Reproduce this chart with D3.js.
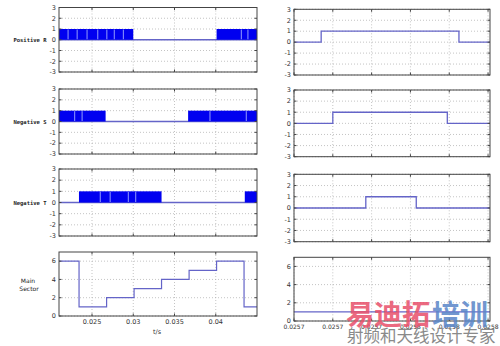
<!DOCTYPE html>
<html><head><meta charset="utf-8">
<script src="https://cdn.jsdelivr.net/npm/d3@7/dist/d3.min.js"></script>
<style>body{margin:0;background:#fff}svg{display:block}</style>
</head><body>
<svg id="c" width="500" height="346"></svg>
<script>
// ---------------- data ----------------
const leftDomain = [0.021, 0.045];
const leftTickValues = [0.025, 0.03, 0.035, 0.04];
const leftTickLabels = ["0.025", "0.03", "0.035", "0.04"];
const pulseYTicks = [-3, -2, -1, 0, 1, 2, 3];
const sectorYTicks = [0, 2, 4, 6];

const rightDomain = [0.02568, 0.025781];
const rightTickValues = [0.02568, 0.0257, 0.02572, 0.02574, 0.02576, 0.02578];
const rightTickLabels = ["0.0257", "0.0257", "0.0257", "0.0258", "0.0258", "0.0258"];

const pulseNames = ["Positive R", "Negative S", "Negative T"];
// PWM switching bands (signal toggles 0/1 rapidly) and visible gaps
const rBands = [[0.021, 0.0300], [0.0401, 0.045]];
const rGaps = [0.0221, 0.0232, 0.0244, 0.0257, 0.0268, 0.0277, 0.0288, 0.0431, 0.0439];
const sBands = [[0.021, 0.02665], [0.03665, 0.045]];
const sGaps = [0.0229, 0.0238, 0.0393, 0.0437];
const tBands = [[0.02342, 0.03343], [0.04352, 0.045]];
const tGaps = [0.0260, 0.0272, 0.0294, 0.0303];

// main sector step signal
const sectorTimes = [0.021, 0.02343, 0.02677, 0.0301, 0.03343, 0.03677, 0.0401, 0.04343, 0.045];
const sectorValues = [6, 1, 2, 3, 4, 5, 6, 1];

// zoomed single PWM period: on/off edges
const rZoomTimes = [0.02568, 0.025694, 0.025765, 0.025781];
const rZoomValues = [0, 1, 0];
const sZoomTimes = [0.02568, 0.0257, 0.025759, 0.025781];
const sZoomValues = [0, 1, 0];
const tZoomTimes = [0.02568, 0.025717, 0.025743, 0.025781];
const tZoomValues = [0, 1, 0];
const sectorZoomTimes = [0.02568, 0.025781];
const sectorZoomValues = [1];

// ---------------- drawing ----------------
const svg = d3.select("#c");
const FONT = "DejaVu Sans";
const lineCol = "#6464c8";
const fillCol = "#0000f0";

function panel(o) {
  const g = svg.append("g");
  const x = d3.scaleLinear().domain(o.xDomain).range([o.x0, o.x1]);
  const y = d3.scaleLinear().domain(o.yDomain).range([o.y1, o.y0]);
  g.selectAll(".gx").data(o.xTicks).join("line")
    .attr("x1", d => x(d)).attr("x2", d => x(d)).attr("y1", o.y0).attr("y2", o.y1)
    .attr("stroke", "#aaa").attr("stroke-width", 0.7).attr("stroke-dasharray", "1,2");
  g.selectAll(".gy").data(o.yTicks).join("line")
    .attr("x1", o.x0).attr("x2", o.x1).attr("y1", d => y(d)).attr("y2", d => y(d))
    .attr("stroke", "#aaa").attr("stroke-width", 0.7).attr("stroke-dasharray", "1,2");
  o.draw(g, x, y);
  g.append("rect").attr("x", o.x0).attr("y", o.y0).attr("width", o.x1 - o.x0).attr("height", o.y1 - o.y0)
    .attr("fill", "none").attr("stroke", "#444").attr("stroke-width", 1);
  const tl = 2.5;
  o.xTicks.forEach(d => {
    g.append("line").attr("x1", x(d)).attr("x2", x(d)).attr("y1", o.y1).attr("y2", o.y1 - tl).attr("stroke", "#444");
    g.append("line").attr("x1", x(d)).attr("x2", x(d)).attr("y1", o.y0).attr("y2", o.y0 + tl).attr("stroke", "#444");
  });
  o.yTicks.forEach(d => {
    g.append("line").attr("x1", o.x0).attr("x2", o.x0 + tl).attr("y1", y(d)).attr("y2", y(d)).attr("stroke", "#444");
    g.append("line").attr("x1", o.x1).attr("x2", o.x1 - tl).attr("y1", y(d)).attr("y2", y(d)).attr("stroke", "#444");
  });
  g.selectAll(".yl").data(o.yTicks).join("text")
    .attr("x", o.x0 - 3).attr("y", d => y(d)).attr("dy", "0.35em")
    .attr("text-anchor", "end").attr("font-family", FONT).attr("font-size", 6.5).attr("fill", "#333")
    .text(d => d);
  if (o.xLabels) {
    g.selectAll(".xl").data(o.xTicks).join("text")
      .attr("x", d => x(d)).attr("y", o.y1 + 8).attr("text-anchor", "middle")
      .attr("font-family", FONT).attr("font-size", o.xFont || 6.5).attr("fill", "#333")
      .text((d, i) => o.xLabels[i]);
  }
  return {x, y};
}

function stepPath(x, y, times, vals) {
  let p = "";
  vals.forEach((v, i) => {
    p += (i === 0 ? "M" : "L") + x(times[i]) + "," + y(v) + "L" + x(times[i + 1]) + "," + y(v);
  });
  return p;
}

function pwm(bands, gaps) {
  return (g, x, y) => {
    g.append("line").attr("x1", x(leftDomain[0])).attr("x2", x(leftDomain[1]))
      .attr("y1", y(0)).attr("y2", y(0)).attr("stroke", lineCol).attr("stroke-width", 1.3);
    g.selectAll(".band").data(bands).join("rect")
      .attr("x", d => x(d[0])).attr("width", d => x(d[1]) - x(d[0]))
      .attr("y", y(1)).attr("height", y(0) - y(1)).attr("fill", fillCol);
    g.selectAll(".gap").data(gaps).join("line")
      .attr("x1", d => x(d)).attr("x2", d => x(d)).attr("y1", y(1) + 0.5).attr("y2", y(0) - 0.5)
      .attr("stroke", "#b8c4ff").attr("stroke-width", 0.8);
  };
}

const leftPanels = [[7.5, 72], [89, 154], [169, 236]];
const rightPanels = [[9.3, 75], [90, 156.7], [174.3, 241.7]];
const pwmData = [[rBands, rGaps], [sBands, sGaps], [tBands, tGaps]];
const zoomData = [[rZoomTimes, rZoomValues], [sZoomTimes, sZoomValues], [tZoomTimes, tZoomValues]];
const labelY = [40, 122.5, 203];

leftPanels.forEach((p, i) => {
  panel({x0: 59, x1: 257, y0: p[0], y1: p[1], xDomain: leftDomain, yDomain: [-3, 3],
    xTicks: leftTickValues, yTicks: pulseYTicks, draw: pwm(pwmData[i][0], pwmData[i][1])});
  svg.append("text").attr("x", 30).attr("y", labelY[i]).attr("dy", "0.35em").attr("text-anchor", "middle")
    .attr("font-family", "DejaVu Sans Mono").attr("font-size", 5.5).attr("font-weight", "bold").attr("fill", "#222")
    .text(pulseNames[i]);
});

panel({x0: 59, x1: 257, y0: 252, y1: 316, xDomain: leftDomain, yDomain: [0, 7],
  xTicks: leftTickValues, yTicks: sectorYTicks, xLabels: leftTickLabels,
  draw: (g, x, y) => g.append("path").attr("d", stepPath(x, y, sectorTimes, sectorValues))
    .attr("fill", "none").attr("stroke", lineCol).attr("stroke-width", 1.2)});
svg.append("text").attr("x", 28).attr("y", 283).attr("text-anchor", "middle")
  .attr("font-family", FONT).attr("font-size", 6).attr("fill", "#222").text("Main");
svg.append("text").attr("x", 29).attr("y", 290.5).attr("text-anchor", "middle")
  .attr("font-family", FONT).attr("font-size", 6).attr("fill", "#222").text("Sector");
svg.append("text").attr("x", 157).attr("y", 334).attr("text-anchor", "middle")
  .attr("font-family", FONT).attr("font-size", 6.5).attr("fill", "#333").text("t/s");

rightPanels.forEach((p, i) => {
  panel({x0: 294, x1: 490, y0: p[0], y1: p[1], xDomain: rightDomain, yDomain: [-3, 3],
    xTicks: rightTickValues, yTicks: pulseYTicks,
    draw: (g, x, y) => g.append("path").attr("d", stepPath(x, y, zoomData[i][0], zoomData[i][1]))
      .attr("fill", "none").attr("stroke", lineCol).attr("stroke-width", 1.3)});
});
panel({x0: 294, x1: 490, y0: 257.3, y1: 321, xDomain: rightDomain, yDomain: [0, 7],
  xTicks: rightTickValues, yTicks: sectorYTicks, xLabels: rightTickLabels, xFont: 6,
  draw: (g, x, y) => g.append("path").attr("d", stepPath(x, y, sectorZoomTimes, sectorZoomValues))
    .attr("fill", "none").attr("stroke", lineCol).attr("stroke-width", 1.2)});

// watermark
const wm = svg.append("g").attr("font-family", "Noto Sans CJK SC").attr("font-weight", "bold");
wm.append("text").attr("x", 346).attr("y", 325).attr("font-size", 28).attr("fill", "#e8506a").attr("opacity", 0.85).text("易迪拓");
wm.append("text").attr("x", 432).attr("y", 325).attr("font-size", 28).attr("fill", "#5a86c8").attr("opacity", 0.85).text("培训");
svg.append("text").attr("x", 347).attr("y", 342).attr("font-family", "Noto Sans CJK SC").attr("font-size", 16.5)
  .attr("fill", "#8a8a8a").text("射频和天线设计专家");
</script>
</body></html>
